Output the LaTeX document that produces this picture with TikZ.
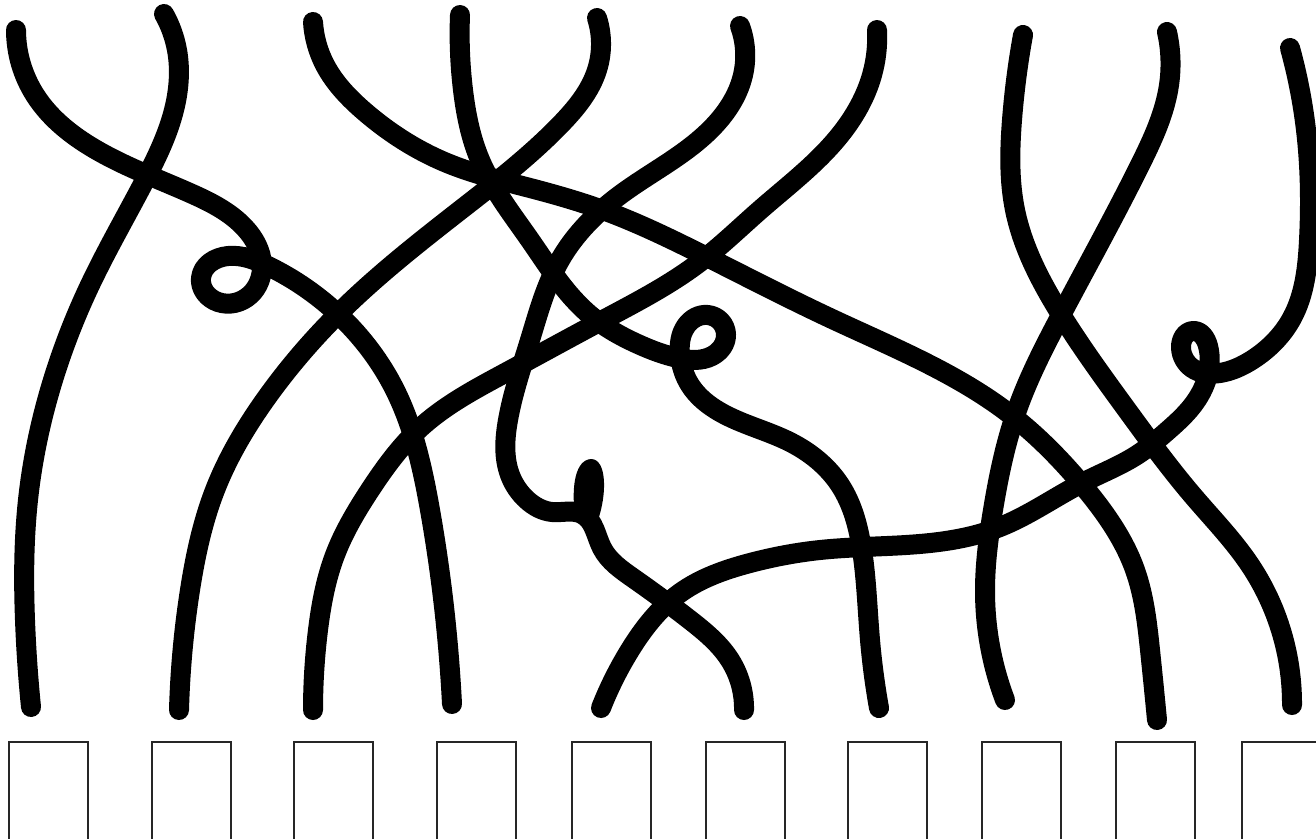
\documentclass[tikz,border=0pt]{standalone}
\usetikzlibrary{hobby}
\begin{document}
\begin{tikzpicture}[x=1pt,y=-1pt,
  strand/.style={line width=20pt, line cap=round, line join=round},
  box/.style={draw=black!85, line width=2.3pt, minimum width=79pt, minimum height=120pt, anchor=north west, inner sep=0pt}]
\useasboundingbox (0,0) rectangle (1316,838);
\clip (0,0) rectangle (1316,838);
% top ends
\coordinate (t1) at (16,30);
\coordinate (t2) at (164,14);
\coordinate (t3) at (313,22);
\coordinate (t4) at (460,15);
\coordinate (t5) at (597,18);
\coordinate (t6) at (740,26);
\coordinate (t7) at (877,30);
\coordinate (t8) at (1023,35);
\coordinate (t9) at (1167,32);
\coordinate (t10) at (1290,48);
% bottom ends
\coordinate (b1) at (31,707);
\coordinate (b2) at (179,710);
\coordinate (b3) at (313,710);
\coordinate (b4) at (452,704);
\coordinate (b5) at (601,708);
\coordinate (b6) at (744,710);
\coordinate (b7) at (879,708);
\coordinate (b8) at (1005,700);
\coordinate (b9) at (1157,720);
\coordinate (b10) at (1292,705);
% boxes
\node[box] (k1) at (8,741) {};
\node[box] (k2) at (151,741) {};
\node[box] (k3) at (293,741) {};
\node[box] (k4) at (436,741) {};
\node[box] (k5) at (571,741) {};
\node[box] (k6) at (705,741) {};
\node[box] (k7) at (847,741) {};
\node[box] (k8) at (981,741) {};
\node[box] (k9) at (1115,741) {};
\node[box] (k10) at (1241,741) {};
% strands
\draw[strand] (t1) to[curve through={(35,95) (100,152) (190,193) (245,228) (262,265) (250,295) (218,302) (201,278) (228,256) (268,266) (340,316) (395,390) (430,510)}] (b4);
\draw[strand] (t2) to[curve through={(177,50) (174,110) (145,180) (90,285) (50,390) (28,500) (25,620)}] (b1);
\draw[strand] (t3) to[curve through={(325,65) (365,112) (447,163) (530,188) (600,209) (707,257) (830,318) (1011,415) (1084,487) (1135,570) (1150,650)}] (b9);
\draw[strand] (t4) to[curve through={(463,90) (480,160) (530,240) (590,315) (640,345) (678,358) (712,356) (726,334) (708,315) (686,326) (680,355) (690,385) (720,412) (790,442) (840,485) (862,550) (870,640)}] (b7);
\draw[strand] (t5) to[curve through={(597,70) (560,125) (463,208) (340,312) (265,400) (215,490) (190,590)}] (b2);
\draw[strand] (t6) to[curve through={(743,75) (710,130) (620,195) (560,260) (530,340) (508,420) (510,475) (527,500) (552,512) (582,514) (602,548) (633,578) (690,620) (730,660)}] (b6);
\fill (575,516) .. controls (571,484) and (576,460) .. (591,459) .. controls (607,459) and (607,494) .. (598,520) -- cycle;
\draw[strand] (t7) to[curve through={(872,75) (840,135) (760,210) (700,262) (603,320) (505,373) (420,428) (370,490) (335,555) (318,630)}] (b3);
\draw[strand] (t8) to[curve through={(1012,120) (1015,210) (1060,313) (1127,410) (1194,497) (1250,565) (1285,645)}] (b10);
\draw[strand] (t9) to[curve through={(1169,85) (1140,165) (1060,317) (1017,410) (993,510) (985,590)}] (b8);
\draw[strand] (t10) to[curve through={(1306,130) (1309,240) (1292,318) (1252,360) (1220,373) (1192,368) (1181,348) (1193,331) (1208,346) (1207,378) (1193,405) (1165,433) (1140,453) (1084,482) (1000,527) (930,543) (820,550) (750,563) (680,593) (630,650)}] (b5);
\end{tikzpicture}
\end{document}
